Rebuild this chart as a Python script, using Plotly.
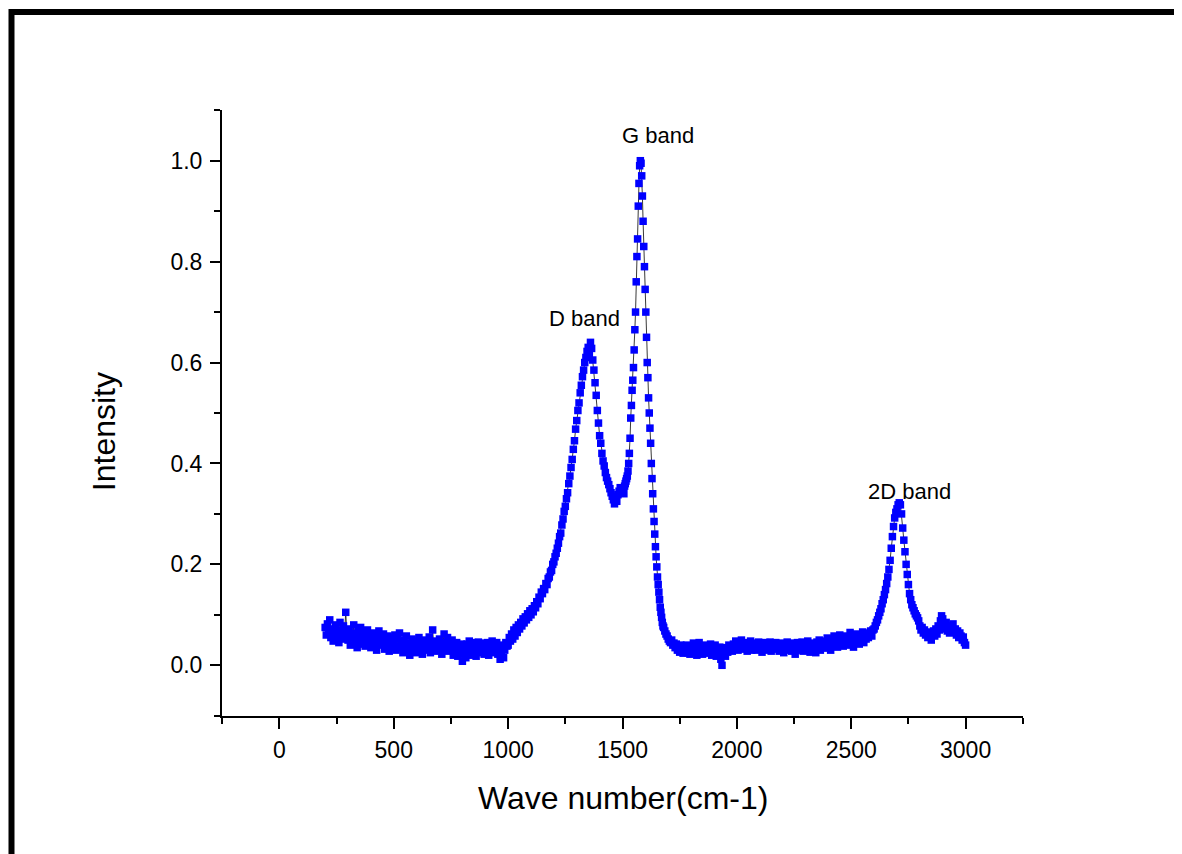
import numpy as np
import plotly.graph_objects as go

# ---- Raman spectrum (segments of the x grid) ----
# 200..995 step 5
seg_a_y = [
    0.075, 0.060, 0.082, 0.068, 0.090, 0.055, 0.072, 0.048, 0.065, 0.080,
    0.058, 0.070, 0.045, 0.085, 0.062, 0.052, 0.078, 0.066, 0.105, 0.060,
    0.050, 0.072, 0.040, 0.064, 0.055, 0.080, 0.046, 0.060, 0.035, 0.068,
    0.052, 0.075, 0.042, 0.058, 0.066, 0.038, 0.055, 0.070, 0.045, 0.060,
    0.035, 0.052, 0.064, 0.042, 0.058, 0.030, 0.050, 0.068, 0.040, 0.055,
    0.045, 0.062, 0.032, 0.050, 0.040, 0.058, 0.028, 0.048, 0.055, 0.036,
    0.042, 0.060, 0.030, 0.052, 0.038, 0.064, 0.035, 0.046, 0.025, 0.050,
    0.040, 0.058, 0.030, 0.044, 0.020, 0.036, 0.052, 0.030, 0.045, 0.025,
    0.048, 0.035, 0.055, 0.028, 0.042, 0.022, 0.050, 0.038, 0.030, 0.046,
    0.034, 0.056, 0.025, 0.044, 0.070, 0.036, 0.028, 0.048, 0.040, 0.030,
    0.052, 0.035, 0.022, 0.045, 0.062, 0.030, 0.040, 0.055, 0.028, 0.046,
    0.035, 0.050, 0.020, 0.040, 0.030, 0.045, 0.018, 0.036, 0.025, 0.042,
    0.008, 0.022, 0.035, 0.015, 0.042, 0.028, 0.048, 0.020, 0.034, 0.045,
    0.026, 0.040, 0.018, 0.035, 0.046, 0.025, 0.038, 0.030, 0.044, 0.022,
    0.036, 0.028, 0.045, 0.020, 0.038, 0.030, 0.048, 0.025, 0.040, 0.032,
    0.045, 0.022, 0.035, 0.012, 0.028, 0.040, 0.015, 0.030, 0.045, 0.038,
]
# 1000..1495 step 5 (D band)
seg_b_y = [
    0.040, 0.055, 0.048, 0.062, 0.052, 0.070, 0.058, 0.075, 0.065, 0.080,
    0.072, 0.085, 0.078, 0.092, 0.084, 0.096, 0.090, 0.102, 0.095, 0.108,
    0.100, 0.112, 0.106, 0.118, 0.114, 0.126, 0.122, 0.135, 0.132, 0.145,
    0.142, 0.152, 0.150, 0.162, 0.160, 0.172, 0.175, 0.185, 0.188, 0.200,
    0.205, 0.215, 0.222, 0.232, 0.242, 0.255, 0.262, 0.278, 0.290, 0.305,
    0.315, 0.330, 0.342, 0.360, 0.375, 0.392, 0.408, 0.428, 0.445, 0.468,
    0.485, 0.505, 0.520, 0.540, 0.555, 0.572, 0.585, 0.600, 0.610, 0.622,
    0.630, 0.618, 0.640, 0.628, 0.605, 0.585, 0.560, 0.535, 0.505, 0.480,
    0.455, 0.440, 0.420, 0.405, 0.395, 0.382, 0.372, 0.365, 0.358, 0.350,
    0.342, 0.335, 0.328, 0.320, 0.332, 0.325, 0.338, 0.345, 0.352, 0.348,
]
# 1500..1677 step 3 (G band)
seg_c_y = [
    0.345, 0.350, 0.340, 0.355, 0.360, 0.365, 0.370, 0.375, 0.385, 0.400,
    0.420, 0.450, 0.490, 0.515, 0.545, 0.565, 0.590, 0.625, 0.665, 0.700,
    0.760, 0.810, 0.845, 0.910, 0.955, 0.990, 1.000, 0.995, 0.970, 0.930,
    0.880, 0.830, 0.790, 0.745, 0.700, 0.650, 0.600, 0.570, 0.530, 0.500,
    0.470, 0.440, 0.400, 0.370, 0.340, 0.310, 0.285, 0.260, 0.235, 0.215,
    0.195, 0.175, 0.160, 0.145, 0.130, 0.115, 0.105, 0.095, 0.085, 0.078,
]
# 1680..2595 step 5
seg_d_y = [
    0.075, 0.068, 0.062, 0.058, 0.052, 0.048, 0.045, 0.050, 0.040, 0.044,
    0.035, 0.042, 0.030, 0.038, 0.026, 0.040, 0.032, 0.024, 0.036, 0.028,
    0.040, 0.025, 0.034, 0.022, 0.038, 0.030, 0.044, 0.026, 0.035, 0.020,
    0.032, 0.045, 0.028, 0.036, 0.022, 0.040, 0.030, 0.024, 0.038, 0.030,
    0.026, 0.042, 0.020, 0.034, 0.028, 0.040, 0.018, 0.032, 0.025, 0.036,
    0.012, 0.000, 0.022, 0.030, 0.018, 0.035, 0.026, 0.040, 0.030, 0.036,
    0.028, 0.042, 0.034, 0.048, 0.038, 0.030, 0.044, 0.036, 0.050, 0.040,
    0.032, 0.045, 0.038, 0.028, 0.042, 0.035, 0.048, 0.030, 0.040, 0.034,
    0.044, 0.030, 0.038, 0.046, 0.032, 0.040, 0.026, 0.042, 0.036, 0.045,
    0.030, 0.040, 0.034, 0.046, 0.028, 0.038, 0.042, 0.032, 0.045, 0.036,
    0.040, 0.028, 0.044, 0.034, 0.038, 0.025, 0.042, 0.032, 0.046, 0.030,
    0.036, 0.044, 0.028, 0.040, 0.032, 0.022, 0.038, 0.045, 0.030, 0.040,
    0.034, 0.046, 0.028, 0.038, 0.042, 0.030, 0.048, 0.036, 0.026, 0.040,
    0.044, 0.032, 0.038, 0.025, 0.046, 0.036, 0.050, 0.030, 0.042, 0.038,
    0.048, 0.034, 0.044, 0.054, 0.038, 0.046, 0.030, 0.050, 0.042, 0.058,
    0.040, 0.052, 0.036, 0.048, 0.060, 0.042, 0.055, 0.038, 0.050, 0.045,
    0.058, 0.040, 0.052, 0.065, 0.044, 0.056, 0.036, 0.050, 0.062, 0.046,
    0.055, 0.042, 0.060, 0.050, 0.066, 0.045, 0.058, 0.052, 0.064, 0.055,
    0.062, 0.068, 0.058, 0.070,
]
# 2600..3000 step 5 (2D band)
seg_e_y = [
    0.072, 0.078, 0.085, 0.090, 0.098, 0.105, 0.112, 0.122, 0.130, 0.140,
    0.150, 0.162, 0.175, 0.190, 0.208, 0.232, 0.255, 0.275, 0.292, 0.303,
    0.310, 0.318, 0.322, 0.318, 0.300, 0.272, 0.248, 0.225, 0.200, 0.180,
    0.160, 0.142, 0.130, 0.120, 0.114, 0.108, 0.102, 0.098, 0.094, 0.088,
    0.078, 0.070, 0.075, 0.064, 0.070, 0.060, 0.066, 0.055, 0.062, 0.058,
    0.050, 0.060, 0.068, 0.058, 0.072, 0.062, 0.078, 0.070, 0.088, 0.098,
    0.092, 0.080, 0.072, 0.085, 0.068, 0.078, 0.064, 0.075, 0.070, 0.082,
    0.066, 0.072, 0.060, 0.068, 0.055, 0.064, 0.058, 0.050, 0.056, 0.045,
    0.040,
]
segment_bounds = [(200, 995), (1000, 1495), (1500, 1677), (1680, 2595), (2600, 3000)]
segments_y = [seg_a_y, seg_b_y, seg_c_y, seg_d_y, seg_e_y]

wave_number = np.concatenate([np.linspace(a, b, len(ys)) for (a, b), ys in zip(segment_bounds, segments_y)])
intensity = np.concatenate([np.array(ys) for ys in segments_y])

band_labels = ["G band", "D band", "2D band"]
band_x = [1657, 1334, 2755]
band_y = [1.050, 0.688, 0.344]

x_major = [0, 500, 1000, 1500, 2000, 2500, 3000]
y_major = [0.0, 0.2, 0.4, 0.6, 0.8, 1.0]

FONT = "Arial, 'Liberation Sans', sans-serif"

fig = go.Figure()
fig.add_trace(go.Scatter(
    x=wave_number, y=intensity, mode="lines+markers",
    line=dict(color="#222222", width=0.9),
    marker=dict(symbol="square", size=7.5, color="#0000FF", line=dict(width=0)),
    showlegend=False,
))

for t, x, y in zip(band_labels, band_x, band_y):
    fig.add_annotation(x=x, y=y, text=t, showarrow=False,
                       font=dict(family=FONT, size=22, color="black"),
                       xanchor="center", yanchor="middle")

fig.add_annotation(xref="paper", yref="paper", x=0.5, y=-0.136,
                   text="Wave number(cm-1)", showarrow=False,
                   font=dict(family=FONT, size=32, color="black"),
                   xanchor="center", yanchor="middle")
fig.add_annotation(xref="paper", yref="paper", x=-0.1473, y=0.4684,
                   text="Intensity", showarrow=False, textangle=-90,
                   font=dict(family=FONT, size=32, color="black"),
                   xanchor="center", yanchor="middle")

# outer black frame
fig.add_shape(type="rect", xref="paper", yref="paper",
              x0=-0.2628, y0=-0.5, x1=1.3, y1=1.1618,
              line=dict(color="black", width=6), fillcolor="rgba(0,0,0,0)", layer="above")

# page body has an 8px margin, so the figure is sized/offset to compensate
fig.update_layout(
    width=1174, height=846,
    margin=dict(l=214, r=159, t=102, b=138),
    paper_bgcolor="white", plot_bgcolor="white",
    font=dict(family=FONT, color="black"),
    xaxis=dict(
        range=[-251, 3251], showgrid=False, zeroline=False,
        showline=True, linecolor="black", linewidth=2,
        ticks="outside", ticklen=11, tickwidth=2, tickcolor="black",
        tickmode="array", tickvals=x_major, ticktext=[str(v) for v in x_major],
        tickfont=dict(family=FONT, size=23, color="black"),
        ticklabelstandoff=1,
        minor=dict(tickmode="linear", tick0=-250, dtick=500, ticklen=6,
                   tickwidth=2, tickcolor="black", ticks="outside", showgrid=False),
    ),
    yaxis=dict(
        range=[-0.1005, 1.1005], showgrid=False, zeroline=False,
        showline=True, linecolor="black", linewidth=2,
        ticks="outside", ticklen=10, tickwidth=2, tickcolor="black",
        tickmode="array", tickvals=y_major, ticktext=[f"{v:.1f}" for v in y_major],
        tickfont=dict(family=FONT, size=23, color="black"),
        ticklabelstandoff=3,
        minor=dict(tickmode="linear", tick0=-0.1, dtick=0.2, ticklen=6,
                   tickwidth=2, tickcolor="black", ticks="outside", showgrid=False),
    ),
)

fig.write_html("out.html")
